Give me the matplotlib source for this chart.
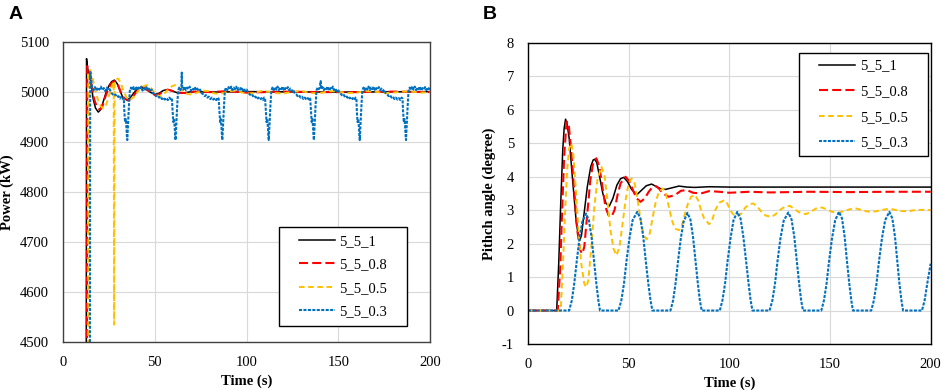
import matplotlib
matplotlib.use("Agg")
import matplotlib.pyplot as plt
from matplotlib.patches import Rectangle

plt.rcParams["font.family"] = "Liberation Serif"
plt.rcParams["font.size"] = 10
plt.rcParams["lines.scale_dashes"] = False
plt.rcParams["axes.unicode_minus"] = False

labels = ["5_5_1", "5_5_0.8", "5_5_0.5", "5_5_0.3"]
colors = ["black", "#FF0000", "#FFC000", "#0070C0"]
dashes = [None, (6.5, 3.0), (4.0, 2.6), (2.2, 1.0)]
widths = [1.1, 1.5, 1.4, 1.5]

# ---- panel A: power (kW) ----
power_t_1 = [12.6, 12.8, 13.5, 14.5, 15.5, 16.5, 17.7, 19.2, 20.5, 22, 23.5, 25, 26.5, 28, 29.5, 31,
             32.5, 34.7, 36.5, 38.5, 40.5, 42.9, 45, 47.5, 50, 52.5, 54.5, 56.5, 59, 62, 65, 70, 80,
             100, 150, 200]
power_1 = [4300, 5067, 5045, 5035, 5010, 4985, 4968, 4960, 4965, 4982, 5000, 5013, 5021, 5024, 5017,
           5003, 4990, 4984, 4988, 4998, 5006, 5009, 5006, 5000, 4995, 4998, 5003, 5005, 5003, 4999,
           4998, 5001, 5000, 5001, 5000, 5001]

power_t_08 = [13.0, 13.2, 14, 15, 16, 17, 18.5, 20, 21.5, 23, 24.5, 26, 27.5, 28.5, 30, 31.5, 33,
              35.5, 37.5, 39.5, 41.5, 43.5, 45.5, 48, 50.5, 53, 55, 57, 60, 63, 67, 72, 80, 90, 100,
              120, 140, 160, 180, 200]
power_08 = [4300, 5052, 5048, 5030, 5005, 4985, 4970, 4965, 4972, 4990, 5005, 5016, 5021, 5022, 5014,
            5000, 4989, 4983, 4988, 4998, 5006, 5010, 5006, 4999, 4993, 4997, 5002, 5005, 5002, 4999,
            4998, 5001, 5000, 5002, 4999, 5001, 5000, 5000, 5001, 5000]

power_t_05 = [13.6, 13.8, 14.8, 16, 17.5, 19, 20.5, 22, 23.5, 25, 26.5, 27.6, 27.85, 28.1, 29, 30.1,
              31.5, 33, 34.5, 36.5, 38.5, 40.5, 42.5, 45.6, 48, 50.5, 52.9, 55, 57.5, 59.5, 61, 63,
              65.5, 68, 70.5, 73, 76, 79, 82, 85, 88, 91, 94, 97, 100, 104, 108, 112, 116, 120, 125,
              130, 135, 140, 145, 150, 155, 160, 165, 170, 175, 180, 185, 190, 195, 200]
power_05 = [4300, 5040, 5044, 5030, 5005, 4985, 4972, 4967, 4975, 4992, 5010, 5020, 4535, 5022, 5026,
            5027, 5018, 5002, 4990, 4984, 4990, 5000, 5010, 5014, 5008, 4996, 4991, 4996, 5006, 5012,
            5014, 5010, 5002, 4996, 4995, 4999, 5003, 5002, 4998, 4996, 4999, 5002, 5003, 5000, 4997,
            4998, 5002, 5001, 4998, 4997, 5001, 5002, 4998, 4998, 5002, 5001, 4998, 4999, 5002, 5001,
            4998, 4999, 5001, 5001, 4999, 5000]

power_t_03 = [14.6, 14.8, 15.3, 15.8, 16.6, 17.4, 18.2, 19.0, 19.8, 20.6, 21.4, 22.2, 23.0, 23.8, 24.6,
              25.4, 26.2, 27.0, 27.8, 28.6, 29.4, 30.2, 31.0, 31.8, 32.6, 33.1,
              33.4, 33.8, 34.2, 34.5, 34.8, 35.0, 35.4, 35.9, 36.4,
              37.0, 37.7, 38.4, 39.1, 39.8, 40.5, 41.2, 41.9, 42.6, 43.3, 44.0, 44.7, 45.4, 46.1, 46.8,
              47.5, 48.3, 49.1, 49.9, 50.7, 51.5, 52.3, 53.1, 53.9, 54.7, 55.5, 56.3, 57.1, 57.9, 58.7,
              59.3,
              59.7, 60.1, 60.5, 60.8, 61.1, 61.3, 61.7, 62.2, 62.7,
              63.3, 64.0, 64.5, 64.7, 64.9, 65.5, 66.2, 66.9, 67.6, 68.3, 69.0, 69.7, 70.4, 71.1, 71.8,
              72.5, 73.2, 73.9, 74.7, 75.5, 76.3, 77.1, 77.9, 78.7, 79.5, 80.3, 81.1, 81.9, 82.7, 83.5,
              84.2, 84.8,
              85.2, 85.6, 86.0, 86.3, 86.6, 86.8, 87.2, 87.7, 88.2,
              88.8, 89.5, 90.2, 90.9, 91.6, 92.3, 93.0, 93.7, 94.4, 95.1, 95.8, 96.5, 97.2, 97.9, 98.6,
              99.3, 100.1, 100.9, 101.7, 102.5, 103.3, 104.1, 104.9, 105.7, 106.5, 107.3, 108.1, 108.9,
              109.6, 110.1,
              110.5, 110.9, 111.3, 111.6, 111.9, 112.1, 112.5, 113.0, 113.5,
              114.1, 114.8, 115.5, 116.2, 116.9, 117.6, 118.3, 119.0, 119.7, 120.4, 121.1, 121.8, 122.5,
              123.2, 123.9, 124.6, 125.4, 126.2, 127.0, 127.8, 128.6, 129.4, 130.2, 131.0, 131.8, 132.6,
              133.4, 134.2, 134.7,
              135.1, 135.5, 135.9, 136.2, 136.5, 136.7, 137.1, 137.6, 138.1,
              138.7, 139.4, 140.0, 140.4, 140.7, 141.4, 142.1, 142.8, 143.5, 144.2, 144.9, 145.6, 146.3,
              147.0, 147.7, 148.4, 149.1, 149.9, 150.7, 151.5, 152.3, 153.1, 153.9, 154.7, 155.5, 156.3,
              157.1, 157.9, 158.7, 159.4, 159.9,
              160.1, 160.5, 160.9, 161.2, 161.5, 161.7, 162.1, 162.6, 163.1,
              163.7, 164.4, 165.1, 165.8, 166.5, 167.2, 167.9, 168.6, 169.3, 170.0, 170.7, 171.4, 172.1,
              172.8, 173.5, 174.2, 175.0, 175.8, 176.6, 177.4, 178.2, 179.0, 179.8, 180.6, 181.4, 182.2,
              183.0, 183.8, 184.5, 185.0,
              185.3, 185.7, 186.1, 186.4, 186.7, 186.9, 187.3, 187.8, 188.3,
              188.9, 189.6, 190.3, 191.0, 191.7, 192.4, 193.1, 193.8, 194.5, 195.2, 195.9, 196.6, 197.3,
              198.0, 198.7, 199.4, 200.0]
power_03 = [4300, 5042, 5028, 5008, 5004, 5010, 5003, 5009, 5005, 5011, 5004, 5008, 5002, 5009, 5004,
            5006, 4999, 4996, 4993, 4995, 4990, 4992, 4987, 4991, 4986, 4988,
            4962, 4940, 4946, 4932, 4912, 4904, 4935, 4972, 5003,
            5009, 5004, 5010, 5005, 5011, 5004, 5009, 5006, 5011, 5003, 5008, 5005, 5010, 5004, 5007,
            5002, 5005, 4998, 4996, 4992, 4994, 4989, 4991, 4986, 4989, 4985, 4988, 4984, 4989, 4986,
            4988,
            4962, 4940, 4946, 4932, 4912, 4904, 4935, 4972, 5003,
            5009, 5004, 5012, 5039, 5010, 5005, 5011, 5004, 5009, 5006, 5011, 5003, 5008, 5005, 5010,
            5004, 5007, 5002, 5005, 4998, 4996, 4992, 4994, 4989, 4991, 4986, 4989, 4985, 4988, 4984,
            4989, 4987,
            4962, 4940, 4946, 4932, 4912, 4904, 4935, 4972, 5003,
            5009, 5004, 5010, 5005, 5011, 5004, 5009, 5006, 5011, 5003, 5008, 5005, 5010, 5004, 5007,
            5002, 5005, 4998, 4996, 4992, 4994, 4989, 4991, 4986, 4989, 4985, 4988, 4984,
            4989, 4987,
            4962, 4940, 4946, 4932, 4912, 4904, 4935, 4972, 5003,
            5009, 5004, 5010, 5005, 5011, 5004, 5009, 5006, 5011, 5003, 5008, 5005, 5010,
            5004, 5007, 5002, 5005, 4998, 4996, 4992, 4994, 4989, 4991, 4986, 4989, 4985,
            4988, 4984, 4987,
            4962, 4940, 4946, 4932, 4912, 4904, 4935, 4972, 5003,
            5009, 5006, 5010, 5022, 5006, 5010, 5004, 5009, 5006, 5011, 5003, 5008, 5005,
            5011, 5004, 5007, 5002, 5005, 4998, 4996, 4992, 4994, 4989, 4991, 4986, 4989,
            4985, 4988, 4984, 4989, 4987,
            4962, 4940, 4946, 4932, 4912, 4904, 4935, 4972, 5003,
            5009, 5004, 5010, 5005, 5011, 5004, 5009, 5006, 5011, 5003, 5008, 5005, 5010,
            5004, 5007, 5002, 5005, 4998, 4996, 4992, 4994, 4989, 4991, 4986, 4989, 4985,
            4988, 4984, 4989, 4987,
            4962, 4940, 4946, 4932, 4912, 4904, 4935, 4972, 5003,
            5009, 5004, 5012, 5005, 5011, 5004, 5009, 5006, 5011, 5003, 5008, 5005, 5010,
            5004, 5009, 5006, 5010]

# ---- panel B: pitch angle (degree) ----
pitch_t_1 = [0, 14.3, 15.3, 16.3, 17.3, 18.0, 18.7, 19.4, 20.5, 22.2, 24.0, 25.0, 25.8, 26.6, 27.8,
             29.5, 31.2, 32.4, 33.2, 34.2, 35.6, 37.2, 38.8, 40.4, 42.2, 44.2, 46.0, 47.6, 49.5, 51.5,
             53.0, 54.4, 56.5, 58.8, 61.4, 64.0, 66.0, 68.3, 71.0, 75.0, 79.0, 83.0, 90, 100, 200]
pitch_1 = [0, 0, 1.4, 3.2, 4.8, 5.45, 5.72, 5.6, 5.15, 3.9, 2.65, 2.25, 2.1, 2.25, 2.85, 3.7, 4.3,
           4.5, 4.52, 4.42, 4.0, 3.5, 3.2, 3.12, 3.35, 3.75, 3.94, 3.98, 3.85, 3.62, 3.52, 3.48, 3.6,
           3.73, 3.78, 3.7, 3.64, 3.62, 3.66, 3.72, 3.69, 3.68, 3.70, 3.69, 3.69]

pitch_t_08 = [0, 14.8, 16, 17, 18, 19.2, 20.2, 21.5, 23, 24.5, 26, 27, 28, 29.5, 31, 32.5, 34, 35.5,
              37, 38.5, 40, 41.5, 43, 44.5, 46, 48.5, 50.5, 52.5, 54, 56, 58, 60, 62, 63.5, 65, 67,
              70, 73, 76, 79, 82, 86, 90, 95, 100, 110, 120, 140, 160, 180, 200]
pitch_08 = [0, 0, 1.2, 3.0, 4.6, 5.65, 5.6, 4.8, 3.6, 2.4, 1.8, 1.7, 1.9, 2.9, 3.9, 4.45, 4.55, 4.3,
            3.7, 3.1, 2.85, 2.8, 3.0, 3.45, 3.8, 4.0, 3.85, 3.55, 3.35, 3.25, 3.35, 3.55, 3.7, 3.72,
            3.65, 3.5, 3.4, 3.45, 3.58, 3.6, 3.52, 3.5, 3.57, 3.55, 3.52, 3.55, 3.53, 3.55, 3.54,
            3.55, 3.55]

pitch_t_05 = [0, 16.3, 17.5, 18.5, 19.5, 20.5, 21.5, 22.5, 23.8, 25, 26.5, 28, 29, 30, 31.5, 33,
              34.5, 36.5, 38, 39.5, 41, 42.5, 44, 45.5, 47, 48.5, 50, 51.5, 53, 54.5, 56, 57.5, 59,
              60.5, 62, 63.5, 65, 67, 68.5, 70, 71.5, 73, 75, 76.5, 78, 79.5, 81, 83, 84.5, 86, 87.5,
              90, 91.5, 93, 95, 97.5, 99, 100.5, 102, 104, 106, 108, 110, 112, 114, 116, 118, 121,
              123, 125, 127.5, 130, 132, 134.5, 138, 140.5, 143, 146, 148.5, 151, 154, 157, 160, 163,
              166, 168.5, 171, 174, 177, 180, 183, 186, 189, 192, 196, 200]
pitch_05 = [0, 0, 1.5, 3.0, 4.2, 4.85, 5.0, 4.7, 3.6, 2.5, 1.4, 0.8, 0.7, 0.9, 1.9, 3.1, 3.9, 4.3,
            4.05, 3.3, 2.4, 1.85, 1.65, 1.9, 2.6, 3.3, 3.8, 3.95, 3.8, 3.3, 2.7, 2.25, 2.13, 2.3, 2.8,
            3.25, 3.55, 3.65, 3.5, 3.1, 2.7, 2.45, 2.4, 2.55, 2.9, 3.2, 3.4, 3.45, 3.3, 3.0, 2.75,
            2.58, 2.7, 3.0, 3.22, 3.3, 3.2, 3.0, 2.87, 2.82, 2.9, 3.08, 3.18, 3.2, 3.1, 2.95, 2.84,
            2.8, 2.88, 3.0, 3.1, 3.13, 3.05, 2.94, 2.88, 2.95, 3.05, 3.08, 3.02, 2.95, 2.92, 2.97,
            3.03, 3.05, 3.0, 2.96, 2.95, 2.98, 3.02, 3.04, 3.0, 2.97, 2.97, 3.0, 3.01, 3.0]

pitch_t_03 = [0, 20.5, 21.8, 23, 24.3, 25.6, 27, 28.8, 30.3, 31.6, 32.8, 34, 35, 35.8,
              45, 46.4, 47.7, 49, 50.4, 52, 54.3, 55.9, 57.3, 58.5, 59.8, 60.9, 61.8,
              70.8, 72.1, 73.3, 74.6, 75.9, 77.3, 79.2, 80.7, 82, 83.2, 84.4, 85.4, 86.3,
              95.3, 96.6, 97.9, 99.2, 100.6, 102.1, 104, 105.6, 107, 108.3, 109.6, 110.6, 111.5,
              120, 121.4, 122.7, 124, 125.4, 127, 129.3, 130.9, 132.3, 133.5, 134.7, 135.7, 136.6,
              145.7, 147, 148.3, 149.6, 151, 152.6, 154.5, 156, 157.3, 158.4, 159.6, 160.6, 161.4,
              170.5, 171.8, 173.1, 174.4, 175.8, 177.4, 179.5, 181, 182.3, 183.4, 184.5, 185.5, 186.3,
              195.7, 197, 198.3, 200]
pitch_03 = [0, 0, 0.3, 0.8, 1.5, 2.15, 2.65, 2.9, 2.7, 2.2, 1.5, 0.8, 0.3, 0,
            0, 0.3, 0.8, 1.5, 2.15, 2.7, 2.95, 2.75, 2.2, 1.5, 0.8, 0.3, 0,
            0, 0.3, 0.8, 1.5, 2.15, 2.65, 2.92, 2.72, 2.2, 1.5, 0.8, 0.3, 0,
            0, 0.3, 0.8, 1.5, 2.15, 2.7, 2.95, 2.75, 2.2, 1.5, 0.8, 0.3, 0,
            0, 0.3, 0.8, 1.5, 2.15, 2.68, 2.93, 2.73, 2.2, 1.5, 0.8, 0.3, 0,
            0, 0.3, 0.8, 1.5, 2.15, 2.7, 2.95, 2.75, 2.2, 1.5, 0.8, 0.3, 0,
            0, 0.3, 0.8, 1.5, 2.15, 2.7, 2.95, 2.75, 2.2, 1.5, 0.8, 0.3, 0,
            0, 0.3, 0.8, 1.4]

power_series = [(power_t_1, power_1), (power_t_08, power_08), (power_t_05, power_05), (power_t_03, power_03)]
pitch_series = [(pitch_t_1, pitch_1), (pitch_t_08, pitch_08), (pitch_t_05, pitch_05), (pitch_t_03, pitch_03)]

fig = plt.figure(figsize=(9.41, 3.90), dpi=100)
axA = fig.add_axes([0.067, 0.123, 0.390, 0.769])
axB = fig.add_axes([0.561, 0.118, 0.428, 0.772])


def draw(ax, series, frame_box, legend_center, labelspacing, spine_color):
    handles = []
    for (t, v), lab, c, d, w in zip(series, labels, colors, dashes, widths):
        ln, = ax.plot(t, v, color=c, lw=w, label=lab)
        if d is not None:
            ln.set_dashes(d)
        handles.append(ln)
    ax.set_xlim(0, 200)
    ax.set_xticks(range(0, 201, 50))
    ax.grid(True, color="#D9D9D9", lw=0.8)
    ax.set_axisbelow(True)
    ax.tick_params(length=0, pad=10, labelsize=10.5)
    for s in ax.spines.values():
        s.set_color(spine_color)
        s.set_linewidth(1.0)
    ax.set_xlabel("Time (s)", fontweight="bold", fontsize=10.5, labelpad=4)
    ax.add_patch(Rectangle(frame_box[:2], frame_box[2], frame_box[3], transform=ax.transAxes,
                           fill=True, facecolor="white", edgecolor="black", lw=1.0, zorder=5))
    leg = ax.legend(handles=handles, loc="center", bbox_to_anchor=legend_center, frameon=False,
                    fontsize=10.5, handlelength=2.5, handletextpad=0.3, labelspacing=labelspacing,
                    borderpad=0.3)
    leg.set_zorder(6)


draw(axA, power_series, (0.5886, 0.0533, 0.3488, 0.33), (0.763, 0.218), 0.7, "#404040")
axA.set_ylim(4500, 5100)
axA.set_yticks(range(4500, 5101, 100))
axA.set_ylabel("Power (kW)", fontweight="bold", fontsize=10.5, labelpad=4)

draw(axB, pitch_series, (0.6725, 0.6246, 0.320, 0.342), (0.8325, 0.7957), 0.85, "black")
axB.set_ylim(-1, 8)
axB.set_yticks(range(-1, 9))
axB.set_ylabel("Pithch angle (degree)", fontweight="bold", fontsize=10.5, labelpad=4)

fig.text(0.009, 0.985, "A", fontfamily="Liberation Sans", fontweight="bold", fontsize=14, va="top")
fig.text(0.513, 0.985, "B", fontfamily="Liberation Sans", fontweight="bold", fontsize=14, va="top")

fig.savefig("out.png", dpi=100)
